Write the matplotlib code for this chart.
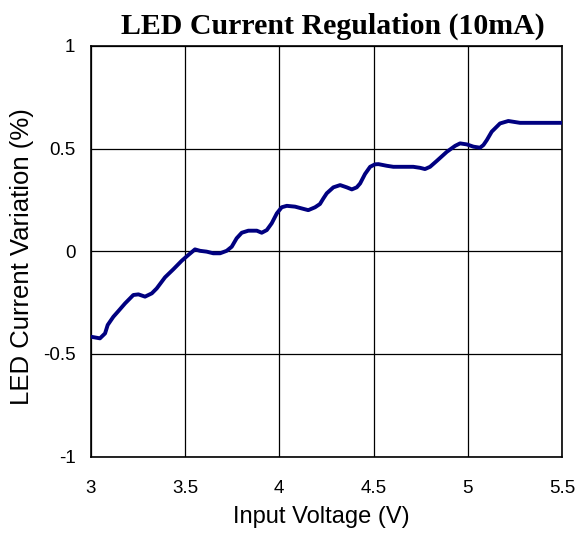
import numpy as np
import matplotlib
matplotlib.use("Agg")
from matplotlib import pyplot as plt

# input voltage (V) and LED current variation (%)
vin = [3.000, 3.049, 3.076, 3.090, 3.120, 3.147, 3.182, 3.226, 3.253, 3.288,
       3.324, 3.350, 3.394, 3.438, 3.483, 3.518, 3.553, 3.580, 3.615, 3.650,
       3.686, 3.721, 3.748, 3.774, 3.801, 3.836, 3.881, 3.907, 3.934, 3.960,
       3.987, 4.013, 4.040, 4.084, 4.137, 4.154, 4.190, 4.216, 4.234, 4.252,
       4.287, 4.323, 4.358, 4.385, 4.411, 4.429, 4.455, 4.482, 4.508, 4.526,
       4.570, 4.605, 4.711, 4.747, 4.773, 4.800, 4.836, 4.889, 4.933, 4.959,
       4.995, 5.030, 5.065, 5.083, 5.101, 5.127, 5.171, 5.215, 5.277, 5.383,
       5.500]
variation = [-0.416, -0.424, -0.400, -0.359, -0.319, -0.291, -0.254, -0.213, -0.210, -0.221,
             -0.205, -0.181, -0.127, -0.088, -0.046, -0.018, 0.009, 0.002, -0.002, -0.010,
             -0.010, 0.002, 0.022, 0.063, 0.090, 0.100, 0.100, 0.090, 0.103, 0.136,
             0.184, 0.214, 0.221, 0.217, 0.204, 0.200, 0.214, 0.230, 0.257, 0.282,
             0.311, 0.322, 0.311, 0.301, 0.311, 0.330, 0.376, 0.411, 0.423, 0.424,
             0.416, 0.411, 0.411, 0.406, 0.400, 0.411, 0.440, 0.484, 0.513, 0.525,
             0.520, 0.509, 0.504, 0.517, 0.541, 0.582, 0.622, 0.634, 0.625, 0.625,
             0.625]

xticks = [3, 3.5, 4, 4.5, 5, 5.5]
xtick_labels = ["3", "3.5", "4", "4.5", "5", "5.5"]
yticks = [-1, -0.5, 0, 0.5, 1]
ytick_labels = ["-1", "-0.5", "0", "0.5", "1"]

fig = plt.figure(figsize=(5.79, 5.35), dpi=100)
ax = fig.add_axes([0.1567, 0.1464, 0.814, 0.768])

ax.plot(vin, variation, color="#000080", linewidth=2.8,
        solid_capstyle="round", solid_joinstyle="round", zorder=3)

ax.set_xlim(3, 5.5)
ax.set_ylim(-1, 1)
ax.set_xticks(xticks)
ax.set_xticklabels(xtick_labels)
ax.set_yticks(yticks)
ax.set_yticklabels(ytick_labels)
ax.grid(True, color="black", linewidth=0.9)
ax.tick_params(length=0, labelsize=13.5)
ax.tick_params(axis="x", pad=17)
ax.tick_params(axis="y", pad=11)
for lbl in ax.get_xticklabels() + ax.get_yticklabels():
    lbl.set_family("Liberation Sans")

for s in ax.spines.values():
    s.set_linewidth(1.2)
    s.set_color("black")

ax.set_xlabel("Input Voltage (V)", fontsize=17, family="Liberation Sans")
ax.set_ylabel("LED Current Variation (%)", fontsize=18.5, family="Liberation Sans")
ax.xaxis.label.set_va("center")
ax.yaxis.label.set_va("center")
ax.xaxis.set_label_coords(0.49, -0.148)
ax.yaxis.set_label_coords(-0.145, 0.486)
ax.set_title("LED Current Regulation (10mA)", fontsize=21.5, fontweight="bold",
             family="Liberation Serif", pad=9, x=0.513)

fig.savefig("out.png", dpi=100)
